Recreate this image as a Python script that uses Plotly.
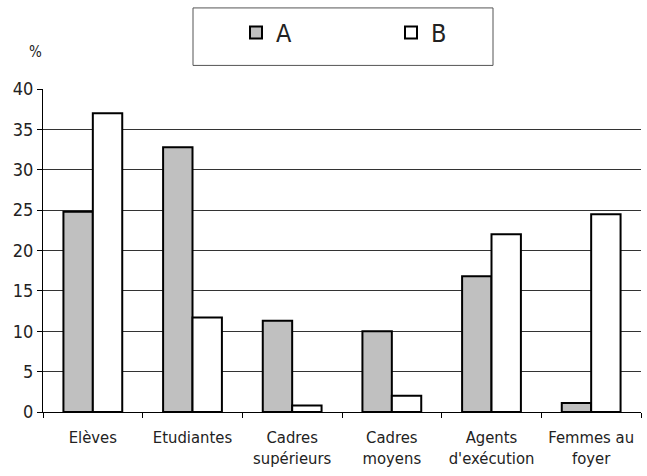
import plotly.graph_objects as go

categories = ["Elèves", "Etudiantes", "Cadres<br>supérieurs", "Cadres<br>moyens",
              "Agents<br>d'exécution", "Femmes au<br>foyer"]
series_a = [24.8, 32.8, 11.3, 10.0, 16.8, 1.1]
series_b = [37.0, 11.7, 0.8, 2.0, 22.0, 24.5]
y_ticks = [0, 5, 10, 15, 20, 25, 30, 35, 40]

FONT = "DejaVu Sans Condensed, Liberation Sans Narrow, sans-serif"

fig = go.Figure()
fig.add_trace(go.Bar(name="A", x=categories, y=series_a,
                     marker=dict(color="#c0c0c0", line=dict(color="black", width=2))))
fig.add_trace(go.Bar(name="B", x=categories, y=series_b,
                     marker=dict(color="white", line=dict(color="black", width=2))))

fig.update_layout(
    width=647, height=476,
    margin=dict(l=43, r=6, t=89, b=64),
    paper_bgcolor="white", plot_bgcolor="white",
    font=dict(family=FONT, size=15, color="#222"),
    barmode="group", bargap=0.41, bargroupgap=0,
    showlegend=True,
    legend=dict(orientation="h", x=(236 - 43) / 598, xanchor="left",
                y=1.174, yanchor="middle",
                font=dict(size=25, color="#222"), entrywidth=110,
                bgcolor="rgba(0,0,0,0)", borderwidth=0),
    shapes=[dict(type="rect", xref="paper", yref="paper",
                 x0=(193 - 43) / 598, x1=(493 - 43) / 598, y0=1.073, y1=1.251,
                 line=dict(color="#555", width=1), fillcolor="rgba(0,0,0,0)")],
    annotations=[dict(text="%", xref="paper", yref="paper", x=(35 - 43) / 598, y=1.115,
                      xanchor="center", yanchor="middle", showarrow=False,
                      font=dict(size=15, color="#222"))],
)
fig.update_xaxes(showline=True, linecolor="black", linewidth=1,
                 ticks="outside", tickson="boundaries", ticklen=5, tickcolor="black",
                 ticklabelstandoff=10,
                 showgrid=False, tickfont=dict(size=16.5))
fig.update_yaxes(range=[0, 40], tickvals=y_ticks, showline=True, linecolor="black",
                 linewidth=1, ticks="outside", ticklen=5, tickcolor="black",
                 showgrid=True, gridcolor="#333", gridwidth=1, zeroline=False,
                 tickfont=dict(size=18))

fig.write_html("out.html")
